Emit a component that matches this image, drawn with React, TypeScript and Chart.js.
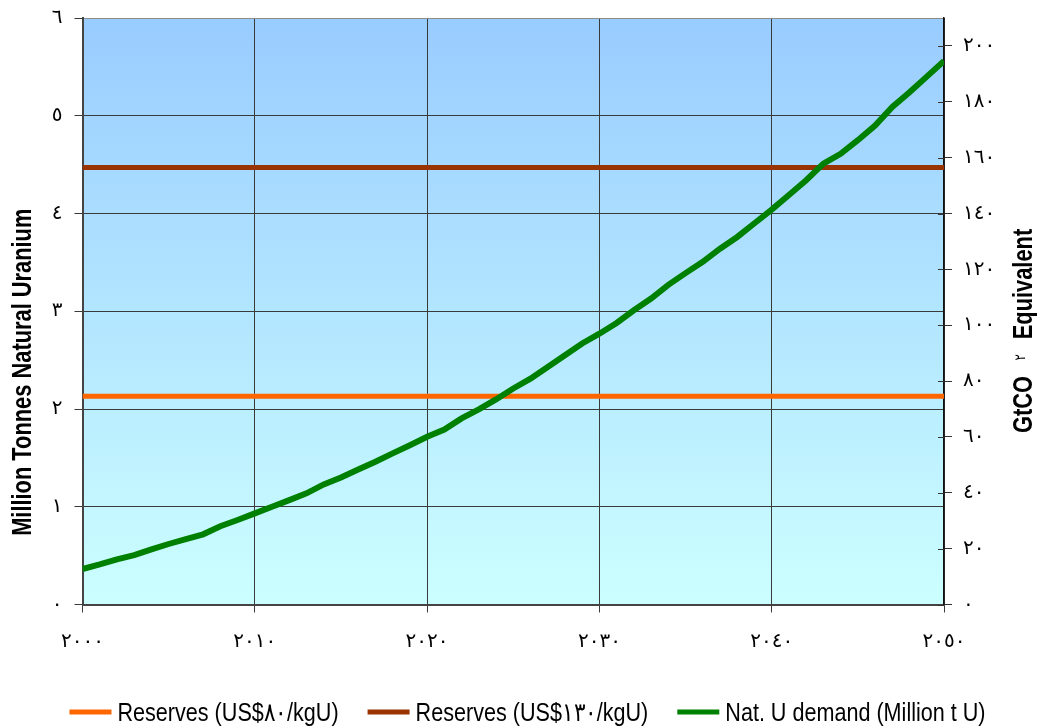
import React, { useEffect, useRef } from 'react';
import { Chart, registerables } from 'chart.js';

Chart.register(...registerables);

// Natural uranium demand, million tonnes, one value per year 2000-2050
const years = [
  2000, 2001, 2002, 2003, 2004, 2005, 2006, 2007, 2008, 2009,
  2010, 2011, 2012, 2013, 2014, 2015, 2016, 2017, 2018, 2019,
  2020, 2021, 2022, 2023, 2024, 2025, 2026, 2027, 2028, 2029,
  2030, 2031, 2032, 2033, 2034, 2035, 2036, 2037, 2038, 2039,
  2040, 2041, 2042, 2043, 2044, 2045, 2046, 2047, 2048, 2049, 2050,
];
const demand = [
  0.363, 0.41, 0.462, 0.506, 0.564, 0.619, 0.67, 0.718, 0.8, 0.864,
  0.932, 1.0, 1.068, 1.137, 1.229, 1.3, 1.382, 1.46, 1.546, 1.63,
  1.716, 1.79, 1.904, 1.996, 2.098, 2.21, 2.31, 2.43, 2.55, 2.67,
  2.77, 2.88, 3.01, 3.13, 3.27, 3.39, 3.505, 3.64, 3.76, 3.9,
  4.04, 4.19, 4.34, 4.51, 4.61, 4.75, 4.9, 5.09, 5.24, 5.4, 5.56,
];

// Reserve levels (flat lines across the period)
const reserveYears = [2000, 2050];
const reserves80 = [2.13, 2.13];
const reserves130 = [4.47, 4.47];

const seriesNames = [
  'Reserves (US$٨٠/kgU)',
  'Reserves (US$١٣٠/kgU)',
  'Nat. U demand (Million t U)',
];
const seriesColors = ['#FF6600', '#993300', '#008000'];

// Axis ticks
const xTickValues = [2000, 2010, 2020, 2030, 2040, 2050];
const xTickLabels = ['٢٠٠٠', '٢٠١٠', '٢٠٢٠', '٢٠٣٠', '٢٠٤٠', '٢٠٥٠'];
const leftTickValues = [0, 1, 2, 3, 4, 5, 6];
const leftTickLabels = ['٠', '١', '٢', '٣', '٤', '٥', '٦'];
const rightTickValues = [0, 20, 40, 60, 80, 100, 120, 140, 160, 180, 200];
const rightTickLabels = ['٠', '٢٠', '٤٠', '٦٠', '٨٠', '١٠٠', '١٢٠', '١٤٠', '١٦٠', '١٨٠', '٢٠٠'];
const rightMax = 210;

const leftTitle = 'Million Tonnes Natural Uranium';
const rightTitleParts = ['GtCO', '٢', 'Equivalent'];

const TICK_FONT = 'DejaVu Sans';
const TEXT_FONT = '"Liberation Sans", Arial, sans-serif';

const pairs = (xs: number[], ys: number[]) => xs.map((x, i) => ({ x, y: ys[i] }));

const labelFor = (values: number[], labels: string[]) => (v: number | string) => {
  const i = values.indexOf(Number(v));
  return i >= 0 ? labels[i] : '';
};

// Gradient fill behind the plot area
const plotFill = {
  id: 'plotFill',
  beforeDraw(chart: any) {
    const { ctx, chartArea: a } = chart;
    const g = ctx.createLinearGradient(0, a.top, 0, a.bottom);
    g.addColorStop(0, '#99CCFF');
    g.addColorStop(1, '#CCFFFF');
    ctx.save();
    ctx.fillStyle = g;
    ctx.fillRect(a.left, a.top, a.right - a.left, a.bottom - a.top);
    ctx.restore();
  },
};

// Right-axis tick marks cross into the plot a little
const rightInnerTicks = {
  id: 'rightInnerTicks',
  afterDraw(chart: any) {
    const { ctx, chartArea: a } = chart;
    const s = chart.scales.y1;
    ctx.save();
    ctx.strokeStyle = '#333';
    ctx.lineWidth = 1;
    rightTickValues.forEach((v) => {
      const y = Math.round(s.getPixelForValue(v)) + 0.5;
      ctx.beginPath();
      ctx.moveTo(a.right - 6, y);
      ctx.lineTo(a.right, y);
      ctx.stroke();
    });
    ctx.restore();
  },
};

// Axis titles, drawn in a condensed bold face reading bottom to top
const axisTitles = {
  id: 'axisTitles',
  afterDraw(chart: any) {
    const { ctx, chartArea: a } = chart;
    const squeeze = 0.78;
    const boldFont = `bold 28px ${TEXT_FONT}`;
    const midY = (a.top + a.bottom) / 2;

    ctx.save();
    ctx.fillStyle = '#000';
    ctx.translate(23, midY + 61);
    ctx.rotate(-Math.PI / 2);
    ctx.scale(squeeze, 1);
    ctx.font = boldFont;
    ctx.textAlign = 'center';
    ctx.textBaseline = 'middle';
    ctx.fillText(leftTitle, 0, 0);
    ctx.restore();

    ctx.save();
    ctx.fillStyle = '#000';
    ctx.translate(1024, 433);
    ctx.rotate(-Math.PI / 2);
    ctx.scale(squeeze, 1);
    ctx.textBaseline = 'middle';
    ctx.textAlign = 'left';
    let x = 0;
    ctx.font = boldFont;
    ctx.fillText(rightTitleParts[0], x, 0);
    x += ctx.measureText(rightTitleParts[0]).width + 20;
    ctx.font = `15px ${TICK_FONT}`;
    ctx.fillText(rightTitleParts[1], x, -3);
    x += ctx.measureText(rightTitleParts[1]).width + 19;
    ctx.font = boldFont;
    ctx.fillText(rightTitleParts[2], x, 0);
    ctx.restore();
  },
};

// Legend row along the bottom edge
const bottomLegend = {
  id: 'bottomLegend',
  afterDraw(chart: any) {
    const { ctx } = chart;
    const squeeze = 0.83;
    const lineLen = 42;
    const lineGap = 6;
    const itemGap = 29;
    const lineY = 712;
    const baseY = 720.5;
    ctx.save();
    ctx.font = `26px ${TEXT_FONT}`;
    const items = chart.data.datasets.map((ds: any) => ({
      label: ds.label as string,
      color: ds.borderColor as string,
      w: ctx.measureText(ds.label).width * squeeze,
    }));
    const total =
      items.reduce((s: number, it: any) => s + lineLen + lineGap + it.w, 0) +
      itemGap * (items.length - 1);
    let x = chart.width / 2 + 9 - total / 2;
    items.forEach((it: any) => {
      ctx.fillStyle = it.color;
      ctx.fillRect(x, lineY - 2.5, lineLen, 5);
      x += lineLen + lineGap;
      ctx.save();
      ctx.translate(x, baseY);
      ctx.scale(squeeze, 1);
      ctx.fillStyle = '#000';
      ctx.textAlign = 'left';
      ctx.textBaseline = 'alphabetic';
      ctx.fillText(it.label, 0, 0);
      ctx.restore();
      x += it.w + itemGap;
    });
    ctx.restore();
  },
};

// Vertical scales: fixed width and no extra room for the end labels
const fitVertical = (width: number) => (s: any) => {
  s.width = width;
  s.paddingTop = 0;
  s.paddingBottom = 0;
};

export default function App() {
  const canvasRef = useRef<HTMLCanvasElement>(null);

  useEffect(() => {
    const canvas = canvasRef.current;
    if (!canvas) return;
    const chart = new Chart(canvas, {
      type: 'line',
      data: {
        datasets: [
          {
            label: seriesNames[0],
            data: pairs(reserveYears, reserves80),
            borderColor: seriesColors[0],
            backgroundColor: seriesColors[0],
            borderWidth: 5,
            pointRadius: 0,
            order: 2,
          },
          {
            label: seriesNames[1],
            data: pairs(reserveYears, reserves130),
            borderColor: seriesColors[1],
            backgroundColor: seriesColors[1],
            borderWidth: 5,
            pointRadius: 0,
            order: 1,
          },
          {
            label: seriesNames[2],
            data: pairs(years, demand),
            borderColor: seriesColors[2],
            backgroundColor: seriesColors[2],
            borderWidth: 6,
            pointRadius: 0,
            order: 0,
          },
        ],
      },
      options: {
        animation: false,
        responsive: false,
        devicePixelRatio: 1,
        layout: { padding: { top: 18, left: 0, right: 0, bottom: 0 } },
        plugins: {
          legend: { display: false },
          tooltip: { enabled: false },
        },
        scales: {
          x: {
            type: 'linear',
            min: 2000,
            max: 2050,
            afterBuildTicks: (s: any) => {
              s.ticks = xTickValues.map((value) => ({ value }));
            },
            afterFit: (s: any) => {
              s.height = 122.5;
              s.paddingLeft = 0;
              s.paddingRight = 0;
            },
            grid: { color: '#3a3a3a', lineWidth: 1, tickLength: 8, tickColor: '#3a3a3a' },
            border: { color: '#444', width: 2 },
            ticks: {
              autoSkip: false,
              maxRotation: 0,
              padding: 17,
              color: '#000',
              font: { family: TICK_FONT, size: 20 },
              callback: labelFor(xTickValues, xTickLabels),
            },
          },
          y: {
            type: 'linear',
            position: 'left',
            min: 0,
            max: 6,
            afterBuildTicks: (s: any) => {
              s.ticks = leftTickValues.map((value) => ({ value }));
            },
            afterFit: fitVertical(82.5),
            grid: {
              color: (c: any) => (c.tick && c.tick.value === 6 ? '#8c8c8c' : '#3a3a3a'),
              lineWidth: 1,
              tickLength: 8,
              tickColor: '#3a3a3a',
            },
            border: { color: '#444', width: 2 },
            ticks: {
              padding: 12,
              color: '#000',
              font: { family: TICK_FONT, size: 20 },
              callback: labelFor(leftTickValues, leftTickLabels),
            },
          },
          y1: {
            type: 'linear',
            position: 'right',
            min: 0,
            max: rightMax,
            afterBuildTicks: (s: any) => {
              s.ticks = rightTickValues.map((value) => ({ value }));
            },
            afterFit: fitVertical(93),
            grid: { drawOnChartArea: false, tickLength: 8, color: '#333', lineWidth: 1 },
            border: { color: '#111', width: 1.5 },
            ticks: {
              padding: 11,
              color: '#000',
              font: { family: TICK_FONT, size: 20 },
              callback: labelFor(rightTickValues, rightTickLabels),
            },
          },
        },
      },
      plugins: [plotFill, rightInnerTicks, axisTitles, bottomLegend],
    } as any);
    return () => chart.destroy();
  }, []);

  return (
    <div style={{ position: 'absolute', left: 0, top: 0, width: 1037, height: 727, background: '#fff' }}>
      <canvas ref={canvasRef} width={1037} height={727} style={{ display: 'block', width: 1037, height: 727 }} />
    </div>
  );
}
